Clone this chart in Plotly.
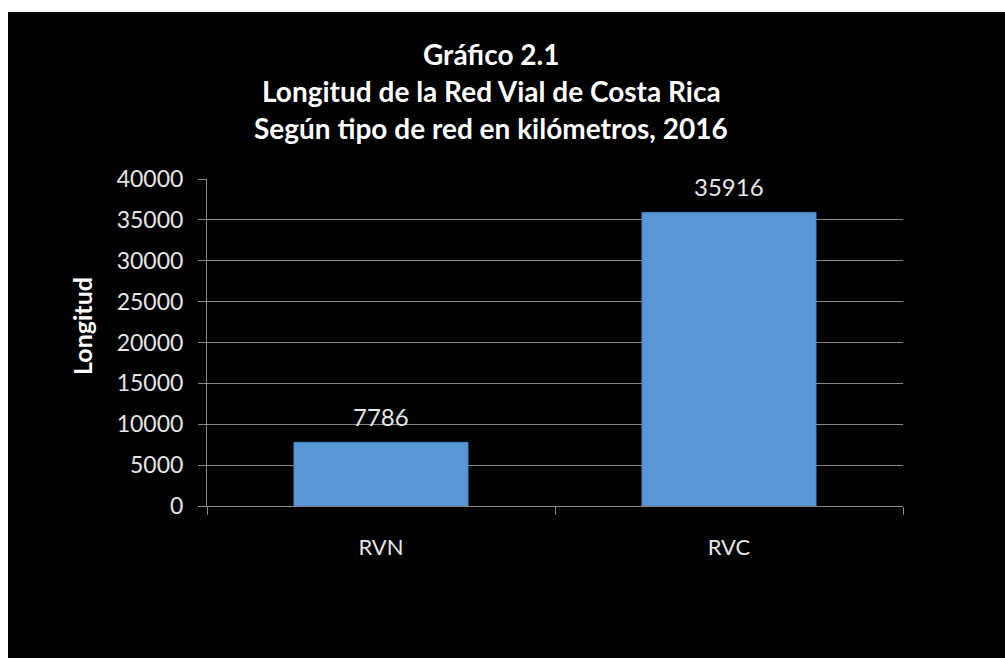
import plotly.graph_objects as go

categories = ["RVN", "RVC"]
values = [7786, 35916]
y_ticks = [0, 5000, 10000, 15000, 20000, 25000, 30000, 35000, 40000]
title_lines = [
    "Gráfico 2.1",
    "Longitud de la Red Vial de Costa Rica",
    "Según tipo de red en kilómetros, 2016",
]
y_title = "Longitud"

W, H = 1005, 658
L, R, T, B = 207, 903, 179, 506  # plot area in pixels
pw, ph = R - L, B - T

def px_x(px):
    return (px - L) / pw

def px_y(py):
    return (B - py) / ph

FONT = "Lato, 'Open Sans', sans-serif"
GRID = "#878787"
TXT = "#e6e6e6"

fig = go.Figure()
fig.add_trace(go.Bar(
    x=categories, y=values,
    marker=dict(color="#5797D6", line=dict(color="#4A86C4", width=1)),
    width=0.5,
))

for c, v in zip(categories, values):
    fig.add_annotation(x=c, y=v, text=str(v), showarrow=False,
                       yanchor="bottom", yshift=9,
                       font=dict(family=FONT, size=24, color=TXT))

title_y = [54, 91, 128]
for line, py in zip(title_lines, title_y):
    fig.add_annotation(xref="paper", yref="paper", x=px_x(491), y=px_y(py),
                       text="<b>" + line + "</b>", showarrow=False,
                       xanchor="center", yanchor="middle",
                       font=dict(family=FONT, size=28, color="white"))

fig.add_annotation(xref="paper", yref="paper", x=px_x(82), y=px_y(326),
                   text="<b>" + y_title + "</b>", showarrow=False, textangle=-90,
                   xanchor="center", yanchor="middle",
                   font=dict(family=FONT, size=25, color="white"))

fig.add_shape(type="rect", xref="paper", yref="paper",
              x0=px_x(8), x1=px_x(W + 20), y0=px_y(H + 20), y1=px_y(12),
              fillcolor="black", line=dict(width=0), layer="below")

fig.update_layout(
    width=W, height=H,
    margin=dict(l=L, r=W - R, t=T, b=H - B),
    paper_bgcolor="white", plot_bgcolor="black",
    showlegend=False,
    font=dict(family=FONT, color=TXT),
    bargap=0.5,
)
fig.update_yaxes(range=[0, 40000], tickvals=y_ticks, ticktext=[str(t) for t in y_ticks],
                 showgrid=True, gridcolor=GRID, gridwidth=1,
                 showline=True, linecolor=GRID, linewidth=1,
                 ticks="outside", ticklen=8, tickcolor=GRID,
                 tickfont=dict(family=FONT, size=23, color=TXT),
                 ticklabelstandoff=10, zeroline=False)
fig.update_xaxes(showline=True, linecolor=GRID, linewidth=1,
                 ticks="outside", ticklen=8, tickcolor=GRID, tickson="boundaries",
                 tickfont=dict(family=FONT, size=22, color=TXT),
                 ticklabelstandoff=22, showgrid=False)

fig.write_html("out.html", config={"displayModeBar": False},
               post_script="document.body.style.margin='0px';")
